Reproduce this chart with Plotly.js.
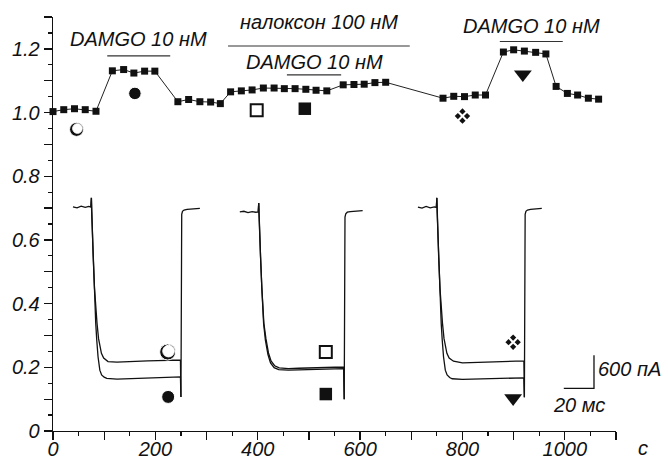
<!DOCTYPE html>
<html>
<head>
<meta charset="utf-8">
<script src="https://cdn.plot.ly/plotly-3.0.1.min.js"></script>
<style>html,body{margin:0;padding:0;background:#fff;}#chart{width:668px;height:459px;}</style>
</head>
<body>
<div id="chart"></div>
<script>
// ---------- data ----------
const sampleTime = [0,21,42,63,84, 116,138,158,179,199, 244,265,287,308,327, 347,368,389,411,432,452,473,494,514,535, 567,588,608,629,650, 762,783,804,825,845, 880,900,921,943,963, 983,1005,1025,1046,1066];
const normCurrent = [1.003,1.009,1.012,1.009,1.004, 1.131,1.135,1.124,1.130,1.130, 1.034,1.041,1.034,1.033,1.028, 1.065,1.068,1.071,1.077,1.077,1.075,1.075,1.073,1.070,1.068, 1.087,1.088,1.089,1.094,1.095, 1.045,1.051,1.050,1.055,1.055, 1.190,1.197,1.193,1.189,1.184, 1.082,1.060,1.055,1.045,1.042];

const barLabels = ['DAMGO 10 нМ', 'налоксон 100 нМ', 'DAMGO 10 нМ', 'DAMGO 10 нМ'];
const barStart = [106, 342, 457, 873];
const barEnd = [229, 697, 563, 996];
const barLevel = [1.178, 1.209, 1.118, 1.223];

// current traces (inset), drawn in the same axes
const ctrl1X = [39,47,55,63,70,74,75,75.5,77.5,78.5,81,83.5,86,89,92,94.6,99,107.5,125,145,165,185,205,225,240,249,250,251.5,253,256,262,272,287];
const ctrl1Y = [0.704,0.701,0.706,0.702,0.705,0.703,0.732,0.69,0.60,0.548,0.45,0.38,0.338,0.29,0.258,0.244,0.229,0.218,0.216,0.218,0.219,0.220,0.221,0.222,0.223,0.223,0.107,0.680,0.690,0.694,0.696,0.697,0.699];
const drug1X = [74,75,75.5,77.5,78.2,80,82,83.5,85.5,88,91.5,95,100,105,125,145,165,185,205,225,240,249,250];
const drug1Y = [0.703,0.732,0.69,0.60,0.548,0.45,0.38,0.338,0.285,0.233,0.191,0.176,0.169,0.165,0.163,0.164,0.165,0.166,0.167,0.168,0.169,0.170,0.107];

const ctrl2X = [365,373,381,389,396,401,402,402.5,403.5,405.5,408,412,416,421,426,433,442,460,480,500,520,540,560,568,569,570.5,572,575,581,592,605];
const ctrl2Y = [0.688,0.690,0.686,0.689,0.687,0.688,0.716,0.68,0.65,0.548,0.45,0.338,0.29,0.245,0.22,0.205,0.198,0.196,0.197,0.198,0.199,0.200,0.201,0.201,0.100,0.672,0.682,0.687,0.689,0.690,0.692];
const drug2X = [401,402,402.5,403.5,405.5,408,411.5,415,420,425,432,441,460,480,500,520,540,560,568,569];
const drug2Y = [0.688,0.716,0.68,0.65,0.548,0.45,0.338,0.285,0.24,0.214,0.199,0.193,0.191,0.192,0.193,0.194,0.195,0.196,0.196,0.100];

const ctrl3X = [713,721,729,737,745,749,750,750.5,752.5,753.5,756,758.5,761,764,767,769.6,774,782.5,800,820,840,860,880,900,912,920,921,922.5,924,927,933,943,955];
const ctrl3Y = [0.703,0.700,0.705,0.701,0.704,0.702,0.732,0.69,0.60,0.548,0.45,0.38,0.338,0.29,0.258,0.244,0.229,0.219,0.214,0.215,0.216,0.217,0.218,0.219,0.220,0.220,0.106,0.680,0.690,0.694,0.696,0.697,0.699];
const drug3X = [749,750,750.5,752.5,753.2,755,757,758.5,760.5,763,766.5,770,775,780,800,820,840,860,880,900,912,920,921];
const drug3Y = [0.702,0.732,0.69,0.60,0.548,0.45,0.38,0.338,0.285,0.233,0.191,0.176,0.168,0.164,0.162,0.163,0.164,0.164,0.165,0.166,0.167,0.167,0.106];

// symbol labels (top: time-course point; bottom: matching trace)
const shadedCircleX = [46, 224], shadedCircleY = [0.947, 0.248];
const filledCircleX = [160, 225], filledCircleY = [1.060, 0.107];
const openSquareX = [398, 533], openSquareY = [1.007, 0.248];
const filledSquareX = [492, 533], filledSquareY = [1.012, 0.116];
const clusterX = [800, 899], clusterY = [0.989, 0.279];
const triangleX = [918, 899], triangleY = [1.120, 0.103];

// scale bar
const scaleBarX = [998, 1057, 1057];
const scaleBarY = [0.134, 0.134, 0.238];
const scaleLabels = ['600 пА', '20 мс'];
const xUnit = 'с';

const xTickVals = [0,100,200,300,400,500,600,700,800,900,1000,1100];
const xTickText = ['0','','200','','400','','600','','800','','1000',''];
const yTickVals = [0,0.1,0.2,0.3,0.4,0.5,0.6,0.7,0.8,0.9,1.0,1.1,1.2,1.3];
const yTickText = ['0','','0.2','','0.4','','0.6','','0.8','','1.0','','1.2',''];

// ---------- chart ----------
const FONT = 'Liberation Sans, Arial, sans-serif';
const INK = '#111';
const pxX = 1100 / 563, pxY = 1.3 / 413.4;

const lineTrace = (x, y) => ({x, y, type:'scatter', mode:'lines', line:{color:INK, width:1.3}, hoverinfo:'skip'});
const markTrace = (x, y, marker, clip) => ({x, y, type:'scatter', mode:'markers', cliponaxis:!!clip,
  marker:Object.assign({opacity:1, color:INK}, marker)});

// four-diamond cluster symbol built around each cluster centre
const clOff = 4.6;
const clDX = [0, clOff, 0, -clOff], clDY = [clOff, 0, -clOff, 0];
const clusterPtsX = [], clusterPtsY = [];
clusterX.forEach((cx, i) => clDX.forEach((d, k) => { clusterPtsX.push(cx + d*pxX); clusterPtsY.push(clusterY[i] + clDY[k]*pxY); }));

const traces = [
  lineTrace(ctrl1X, ctrl1Y), lineTrace(drug1X, drug1Y),
  lineTrace(ctrl2X, ctrl2Y), lineTrace(drug2X, drug2Y),
  lineTrace(ctrl3X, ctrl3Y), lineTrace(drug3X, drug3Y),
  lineTrace(scaleBarX, scaleBarY),
  {x:sampleTime, y:normCurrent, type:'scatter', mode:'lines+markers', cliponaxis:false,
   line:{color:'#222', width:1}, marker:{symbol:'square', size:7, color:INK, opacity:1}},
  // shaded circle: black disc with smaller white disc shifted up-right
  markTrace(shadedCircleX, shadedCircleY, {symbol:'circle', size:[14,16]}),
  markTrace(shadedCircleX.map(v => v + 0.9*pxX), shadedCircleY.map(v => v + 0.9*pxY), {symbol:'circle', size:[9.6,11.6], color:'#fff'}),
  markTrace(filledCircleX, filledCircleY, {symbol:'circle', size:[12.5,13]}),
  markTrace(openSquareX, openSquareY, {symbol:'square-open', size:12, line:{width:2, color:INK}}),
  markTrace(filledSquareX, filledSquareY, {symbol:'square', size:12.5}),
  markTrace(triangleX, triangleY, {symbol:'triangle-down', size:15.5}),
  markTrace(clusterPtsX, clusterPtsY, {symbol:'diamond', size:4.8})
];

const shapes = barStart.map((s, i) => ({type:'line', xref:'x', yref:'y', x0:s, x1:barEnd[i], y0:barLevel[i], y1:barLevel[i],
  line:{color:'#333', width:1.2}}));

const labelFont = {family:FONT, size:20, color:INK, style:'italic'};
const labelShift = [17, 24, 13, 16];
const annotations = barLabels.map((t, i) => ({text:t, x:(barStart[i]+barEnd[i])/2, y:barLevel[i], xref:'x', yref:'y',
  showarrow:false, xanchor:'center', yanchor:'middle', yshift:labelShift[i], font:labelFont}));
annotations.push({text:scaleLabels[0], x:scaleBarX[2], y:(scaleBarY[1]+scaleBarY[2])/2, xref:'x', yref:'y', showarrow:false,
  xanchor:'left', yanchor:'middle', xshift:2, yshift:3, font:labelFont});
annotations.push({text:scaleLabels[1], x:(scaleBarX[0]+scaleBarX[1])/2, y:scaleBarY[0], xref:'x', yref:'y', showarrow:false,
  xanchor:'center', yanchor:'top', yshift:-4, font:labelFont});
annotations.push({text:xUnit, x:1, y:0, xref:'paper', yref:'paper', showarrow:false, xanchor:'center', yanchor:'top',
  xshift:27, yshift:-5, borderpad:0, font:labelFont});

const axisCommon = {showline:true, linecolor:INK, linewidth:1.3, ticks:'outside', ticklen:8, tickwidth:1.3, tickcolor:INK,
  showgrid:false, zeroline:false, tickmode:'array', tickfont:labelFont};

const layout = {
  width:668, height:459, margin:{l:53, r:52, t:17, b:28, pad:0},
  paper_bgcolor:'#fff', plot_bgcolor:'#fff', showlegend:false,
  font:labelFont,
  xaxis:Object.assign({}, axisCommon, {range:[0,1100], tickvals:xTickVals, ticktext:xTickText, ticklabelstandoff:-8,
    minor:{tickmode:'array', tickvals:[50,150,250,350,450,550,650,750,850,950,1050], ticks:'outside', ticklen:4, tickwidth:1.2, tickcolor:INK, showgrid:false}}),
  yaxis:Object.assign({}, axisCommon, {range:[0,1.3], tickvals:yTickVals, ticktext:yTickText,
    minor:{tickmode:'array', tickvals:[0.05,0.15,0.25,0.35,0.45,0.55,0.65,0.75,0.85,0.95,1.05,1.15,1.25], ticks:'outside', ticklen:4, tickwidth:1.2, tickcolor:INK, showgrid:false}}),
  shapes, annotations
};

Plotly.newPlot('chart', traces, layout, {staticPlot:true, displayModeBar:false});
</script>
</body>
</html>
